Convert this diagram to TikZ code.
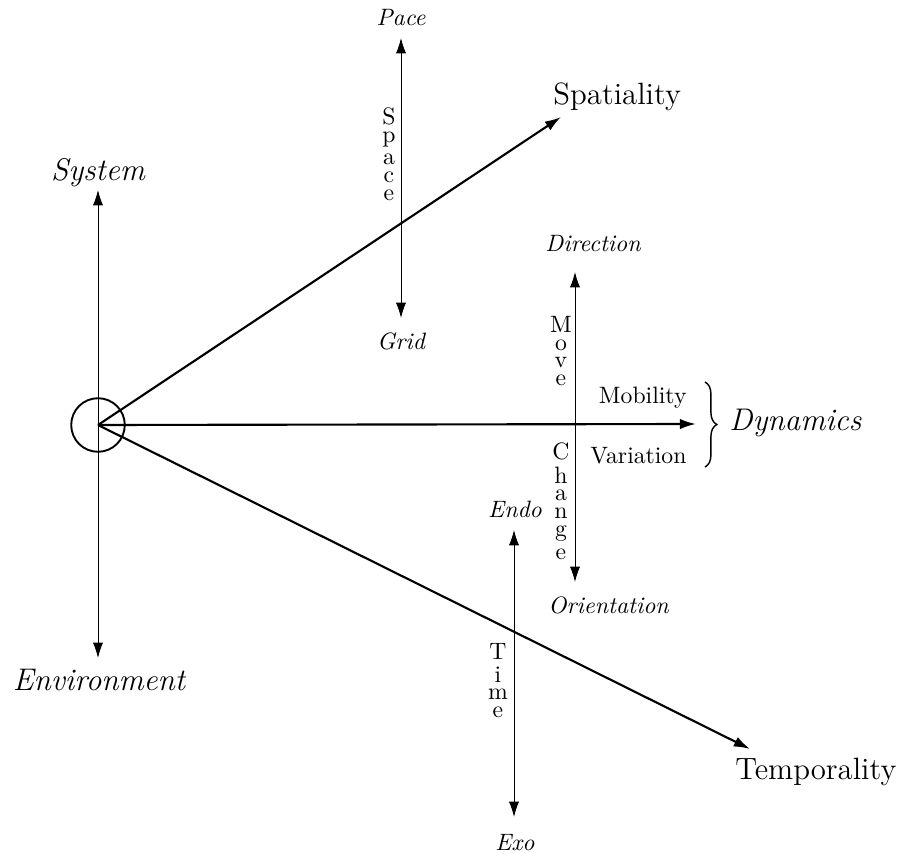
\documentclass[tikz,border=0pt]{standalone}
\usetikzlibrary{arrows.meta,decorations.pathreplacing}
\begin{document}
\begin{tikzpicture}[x=0.4219pt,y=-0.4219pt,
  biglab/.style={font=\fontsize{13.2}{15}\selectfont\itshape, inner sep=0},
  bigrom/.style={font=\fontsize{13}{15}\selectfont, inner sep=0},
  smalllab/.style={font=\itshape, inner sep=0},
  midlab/.style={inner sep=0},
  stackbox/.style={inner sep=0},
  axisline/.style={line width=0.4pt, {Latex[length=6.5pt,width=4.3pt]}-{Latex[length=6.5pt,width=4.3pt]}},
  mainarrow/.style={line width=0.9pt, -{Latex[length=6.8pt,width=4.4pt]}},
  hub/.style={circle, draw, line width=0.8pt, inner sep=0, minimum size=22.6pt}]
\useasboundingbox (0,0) rectangle (902,854);

% hub
\node[hub] (O) at (98,425) {};

% tip coordinates
\coordinate (sysTip) at (98,190);
\coordinate (envTip) at (98,658);
\coordinate (spTop) at (401,38);
\coordinate (spBot) at (401,318);
\coordinate (mvTop) at (575,272);
\coordinate (mvBot) at (575,582);
\coordinate (tmTop) at (514,530);
\coordinate (tmBot) at (514,817);
\coordinate (spatTip) at (561,117);
\coordinate (dynTip) at (696,424);
\coordinate (tempTip) at (750,749);
\coordinate (brTop) at (705,382);
\coordinate (brBot) at (705,467);

% axes
\draw[axisline] (sysTip) -- (envTip);
\draw[axisline] (spTop) -- (spBot);
\draw[axisline] (mvTop) -- (mvBot);
\draw[axisline] (tmTop) -- (tmBot);

% main arrows
\draw[mainarrow] (O.center) -- (spatTip);
\draw[mainarrow] (O.center) -- (dynTip);
\draw[mainarrow] (O.center) -- (tempTip);

% brace
\draw[line width=0.6pt, decorate, decoration={brace, amplitude=5pt}] (brTop) -- (brBot);

% big labels
\node[biglab, anchor=base] (system) at (98,181) {System};
\node[biglab, anchor=base] (environment) at (99,690) {Environment};
\node[biglab, anchor=base west] (dynamics) at (729,431) {Dynamics};
\node[bigrom, anchor=base west] (spatiality) at (553,105) {Spatiality};
\node[bigrom, anchor=base west] (temporality) at (735,779) {Temporality};

% small italic labels
\node[smalllab, anchor=base] (pace) at (401,26) {Pace};
\node[smalllab, anchor=base] (grid) at (401,350) {Grid};
\node[smalllab, anchor=base west] (direction) at (545,252) {Direction};
\node[smalllab, anchor=base west] (orientation) at (548,613) {Orientation};
\node[smalllab, anchor=base] (endo) at (515,518) {Endo};
\node[smalllab, anchor=base] (exo) at (515,850) {Exo};

% mid labels
\node[midlab, anchor=base east] (mobility) at (687,404) {Mobility};
\node[midlab, anchor=base east] (variation) at (687,463) {Variation};

% stacked letters
\node[stackbox, anchor=north] (space) at (389,107) {\shortstack{S\\p\\a\\c\\e}};
\node[stackbox, anchor=north] (move) at (561,316) {\shortstack{M\\o\\v\\e}};
\node[stackbox, anchor=north] (change) at (561,442) {\shortstack{C\\h\\a\\n\\g\\e}};
\node[stackbox, anchor=north] (time) at (498,643) {\shortstack{T\\i\\m\\e}};
\end{tikzpicture}
\end{document}
